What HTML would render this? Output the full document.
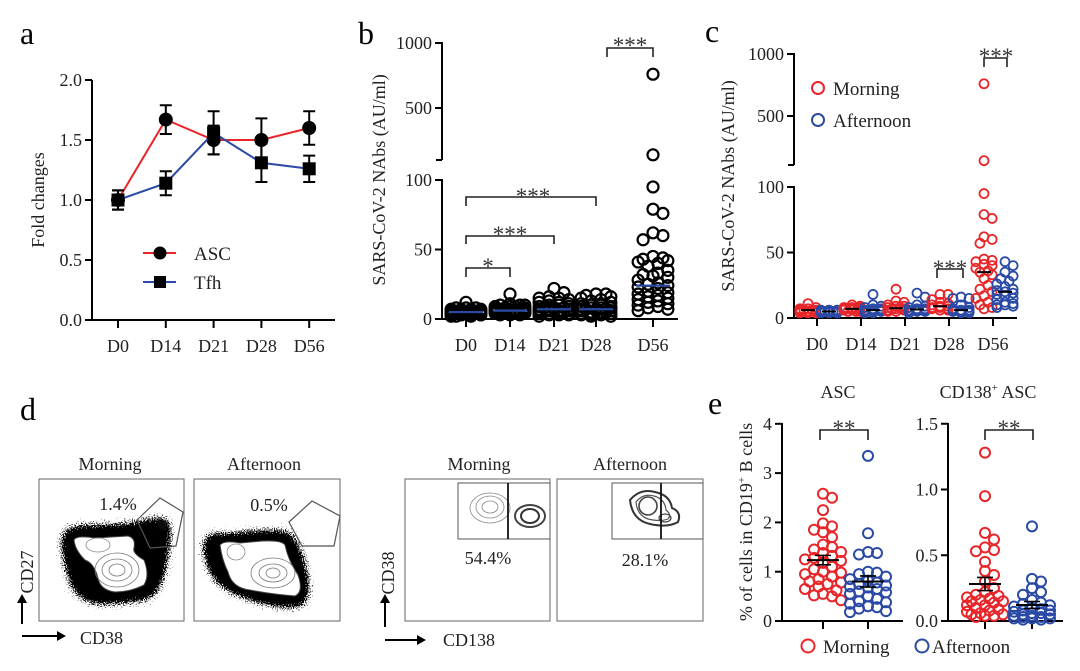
<!DOCTYPE html>
<html><head><meta charset="utf-8">
<style>
html,body{margin:0;padding:0;background:#fff;}
svg{display:block;font-family:"Liberation Serif",serif;}
</style></head>
<body>
<svg id="fig" width="1080" height="671" viewBox="0 0 1080 671" xmlns="http://www.w3.org/2000/svg">
<defs>
<filter id="blur1"><feGaussianBlur stdDeviation="1"/></filter>
<filter id="speckle" x="-30%" y="-30%" width="160%" height="160%">
  <feGaussianBlur in="SourceAlpha" stdDeviation="7" result="mask"/>
  <feTurbulence type="fractalNoise" baseFrequency="0.9" numOctaves="1" seed="3" result="noise"/>
  <feColorMatrix in="noise" type="matrix" values="0 0 0 0 0  0 0 0 0 0  0 0 0 0 0  1.2 0 0 0 0" result="na"/>
  <feComposite in="na" in2="mask" operator="arithmetic" k1="0" k2="1" k3="1.1" k4="-1" result="sum"/>
  <feColorMatrix in="sum" type="matrix" values="0 0 0 0 0  0 0 0 0 0  0 0 0 0 0  0 0 0 12 0"/>
</filter>
</defs>
<!-- Panel letters -->
<text x="20" y="44" font-size="32">a</text>
<text x="358" y="44" font-size="32">b</text>
<text x="705" y="42" font-size="32">c</text>
<text x="20" y="420" font-size="32">d</text>
<text x="708" y="414" font-size="32">e</text>

<!-- Panel a -->
<g id="pa" stroke="#000" stroke-width="2" fill="none">
  <line x1="92" y1="80" x2="92" y2="321"/>
  <line x1="91" y1="320" x2="335" y2="320"/>
</g>
<g id="paTicks" font-size="18" fill="#222"></g>
<text transform="translate(44,200) rotate(-90)" text-anchor="middle" font-size="18" fill="#222">Fold changes</text>
<g id="paLegend">
  <line x1="143" y1="253" x2="176" y2="253" stroke="#e8262a" stroke-width="2"/>
  <circle cx="160" cy="253" r="6.5" fill="#000"/>
  <text x="194" y="260" font-size="19" fill="#222">ASC</text>
  <line x1="143" y1="282" x2="176" y2="282" stroke="#2b4aa6" stroke-width="2"/>
  <rect x="154" y="276" width="12" height="12" fill="#000"/>
  <text x="194" y="289" font-size="19" fill="#222">Tfh</text>
</g>

<!-- Panel b -->
<g stroke="#000" stroke-width="2" fill="none">
  <line x1="442" y1="42" x2="442" y2="160"/>
  <line x1="436" y1="160" x2="442" y2="160"/>
  <line x1="442" y1="179" x2="442" y2="320"/>
  <line x1="441" y1="319" x2="678" y2="319"/>
</g>
<g id="pbTicks" font-size="18" fill="#222"></g>
<text transform="translate(385,180) rotate(-90)" text-anchor="middle" font-size="18" fill="#222">SARS-CoV-2 NAbs (AU/ml)</text>
<g id="pbMarks"></g>
<g stroke="#222" stroke-width="1.6" fill="none">
  <path d="M466 277 V268 H510 V277"/>
  <path d="M466 244 V236 H554 V244"/>
  <path d="M466 206 V197 H596 V206"/>
  <path d="M607 57 V48 H653 V57"/>
</g>
<g font-size="23" fill="#333" text-anchor="middle">
  <text x="488" y="274">*</text>
  <text x="510" y="242">***</text>
  <text x="533" y="204">***</text>
  <text x="630" y="53">***</text>
</g>

<!-- Panel c -->
<g stroke="#000" stroke-width="2" fill="none">
  <line x1="794" y1="53" x2="794" y2="165"/>
  <line x1="788" y1="165" x2="794" y2="165"/>
  <line x1="794" y1="186" x2="794" y2="319"/>
  <line x1="793" y1="318" x2="1017" y2="318"/>
</g>
<g id="pcTicks" font-size="18" fill="#222"></g>
<text transform="translate(734,186) rotate(-90)" text-anchor="middle" font-size="18" fill="#222">SARS-CoV-2 NAbs (AU/ml)</text>
<g id="pcMarks"></g>
<g>
  <circle cx="818" cy="88" r="6" fill="none" stroke="#e8262a" stroke-width="2"/>
  <text x="833" y="95" font-size="19" fill="#222">Morning</text>
  <circle cx="818" cy="120" r="6" fill="none" stroke="#2b4aa6" stroke-width="2"/>
  <text x="833" y="127" font-size="19" fill="#222">Afternoon</text>
</g>
<g stroke="#222" stroke-width="1.6" fill="none">
  <path d="M937 278 V269 H963 V278"/>
  <path d="M984 67 V58 H1007 V67"/>
</g>
<g font-size="23" fill="#333" text-anchor="middle">
  <text x="950" y="276">***</text>
  <text x="996" y="64">***</text>
</g>

<!-- Panel d -->
<g font-size="18" fill="#222">
  <text x="110" y="470" text-anchor="middle">Morning</text>
  <text x="264" y="470" text-anchor="middle">Afternoon</text>
  <text x="479" y="470" text-anchor="middle">Morning</text>
  <text x="630" y="470" text-anchor="middle">Afternoon</text>

  <!-- plot 1 -->
  <g>
    <rect x="39" y="479" width="145" height="142" fill="#fff" stroke="#666" stroke-width="1"/>
    <path d="M62 535 Q66 526 88 527 L128 525 Q148 521 160 518 Q170 516 170 530 L166 560 Q162 588 150 598 Q120 603 95 603 Q77 598 72 585 Q63 560 62 535Z" fill="#000" filter="url(#speckle)"/>
    <circle cx="163" cy="525" r="5" fill="#111" filter="url(#blur1)"/>
    <path d="M74 540 Q76 535 95 538 L128 536 Q136 538 134 548 Q132 553 144 560 Q150 575 144 585 Q130 592 115 592 Q100 590 98 578 Q94 563 85 560 Q75 550 74 540Z" fill="#fff" stroke="#444" stroke-width="1"/>
    <ellipse cx="117" cy="570" rx="22" ry="17" fill="none" stroke="#777" stroke-width="0.8"/>
    <ellipse cx="117" cy="570" rx="15" ry="11" fill="none" stroke="#777" stroke-width="0.8"/>
    <ellipse cx="117" cy="570" rx="8" ry="6" fill="none" stroke="#777" stroke-width="0.8"/>
    <ellipse cx="98" cy="545" rx="12" ry="7" fill="none" stroke="#888" stroke-width="0.8"/>
    <path d="M137 520 L160 498 L183 512 L176 546 L150 548 Z" fill="none" stroke="#555" stroke-width="1.2"/>
    <text x="118" y="510" text-anchor="middle">1.4%</text>
  </g>
  <!-- plot 2 -->
  <g>
    <rect x="194" y="479" width="146" height="142" fill="#fff" stroke="#666" stroke-width="1"/>
    <path d="M204 540 Q208 532 225 535 L260 532 Q283 530 292 534 Q298 547 303 560 Q310 585 306 604 Q290 609 265 603 Q237 596 218 583 Q204 565 204 540Z" fill="#000" filter="url(#speckle)"/>
    <path d="M220 545 Q224 540 240 543 L262 541 Q282 540 285 545 Q288 560 298 575 Q304 592 295 596 Q270 594 250 590 Q232 588 228 572 Q222 560 220 545Z" fill="#fff" stroke="#444" stroke-width="1"/>
    <ellipse cx="273" cy="573" rx="22" ry="15" fill="none" stroke="#777" stroke-width="0.8"/>
    <ellipse cx="273" cy="573" rx="14" ry="9" fill="none" stroke="#777" stroke-width="0.8"/>
    <ellipse cx="273" cy="573" rx="7" ry="5" fill="none" stroke="#777" stroke-width="0.8"/>
    <ellipse cx="236" cy="552" rx="9" ry="8" fill="none" stroke="#888" stroke-width="0.8"/>
    <path d="M289 522 L312 501 L340 516 L334 546 L302 546 Z" fill="none" stroke="#555" stroke-width="1.2"/>
    <text x="269" y="511" text-anchor="middle">0.5%</text>
  </g>
  <path d="M22 624 V600 M22 636 H60" stroke="#000" stroke-width="2" fill="none"/>
  <path d="M17 603 L22 594 L27 603Z M57 631 L66 636 L57 641Z" fill="#000"/>
  <text transform="translate(33,572) rotate(-90)" text-anchor="middle">CD27</text>
  <text x="80" y="644">CD38</text>

  <!-- plot 3 -->
  <g>
    <rect x="405" y="479" width="145" height="142" fill="#fff" stroke="#666" stroke-width="1"/>
    <rect x="458" y="483" width="92" height="56" fill="none" stroke="#555" stroke-width="1"/>
    <ellipse cx="490" cy="508" rx="20" ry="15" fill="none" stroke="#888" stroke-width="0.8"/>
    <ellipse cx="490" cy="507" rx="14" ry="11" fill="none" stroke="#888" stroke-width="0.8"/>
    <ellipse cx="490" cy="507" rx="8" ry="6" fill="none" stroke="#888" stroke-width="0.8"/>
    <ellipse cx="530" cy="516" rx="15" ry="11" fill="none" stroke="#444" stroke-width="2"/>
    <ellipse cx="530" cy="516" rx="9" ry="7" fill="none" stroke="#333" stroke-width="2"/>
    <line x1="508" y1="483" x2="508" y2="539" stroke="#111" stroke-width="1.8"/>
    <text x="488" y="564" text-anchor="middle">54.4%</text>
  </g>
  <!-- plot 4 -->
  <g>
    <rect x="557" y="479" width="146" height="142" fill="#fff" stroke="#666" stroke-width="1"/>
    <rect x="612" y="483" width="91" height="56" fill="none" stroke="#555" stroke-width="1"/>
    <path d="M630 500 Q640 488 655 492 Q670 495 672 508 Q682 512 678 522 Q668 528 650 524 Q632 520 630 500Z" fill="none" stroke="#333" stroke-width="2"/>
    <path d="M636 502 Q643 493 654 496 Q665 499 666 510 Q672 515 668 519 Q660 522 648 519 Q637 515 636 502Z" fill="none" stroke="#555" stroke-width="1.2"/>
    <ellipse cx="648" cy="506" rx="9" ry="9" fill="none" stroke="#444" stroke-width="1.6"/>
    <ellipse cx="665" cy="518" rx="6" ry="4" fill="none" stroke="#444" stroke-width="1.2"/>
    <line x1="661" y1="483" x2="661" y2="539" stroke="#111" stroke-width="1.8"/>
    <text x="645" y="566" text-anchor="middle">28.1%</text>
  </g>
  <path d="M385 627 V600 M385 640 H420" stroke="#000" stroke-width="2" fill="none"/>
  <path d="M380 603 L385 594 L390 603Z M417 635 L426 640 L417 645Z" fill="#000"/>
  <text transform="translate(394,573) rotate(-90)" text-anchor="middle">CD38</text>
  <text x="443" y="646">CD138</text>
</g>

<!-- Panel e -->
<g stroke="#000" stroke-width="2" fill="none">
  <line x1="782" y1="423" x2="782" y2="622"/>
  <line x1="781" y1="621" x2="903" y2="621"/>
  <line x1="948" y1="423" x2="948" y2="622"/>
  <line x1="947" y1="621" x2="1063" y2="621"/>
</g>
<g id="peTicks" font-size="18" fill="#222"></g>
<text x="838" y="398" text-anchor="middle" font-size="18" fill="#222">ASC</text>
<text x="988" y="398" text-anchor="middle" font-size="18" fill="#222">CD138<tspan font-size="11" dy="-7">+</tspan><tspan dy="7"> ASC</tspan></text>
<text transform="translate(752,522) rotate(-90)" text-anchor="middle" font-size="18" fill="#222">% of cells in CD19<tspan font-size="11" dy="-7">+</tspan><tspan dy="7"> B cells</tspan></text>
<g id="peMarks"></g>
<g stroke="#222" stroke-width="1.6" fill="none">
  <path d="M820 440 V430 H868 V440"/>
  <path d="M985 440 V430 H1033 V440"/>
</g>
<g font-size="23" fill="#333" text-anchor="middle">
  <text x="844" y="436">**</text>
  <text x="1009" y="436">**</text>
</g>
<g>
  <circle cx="808" cy="646" r="6.5" fill="none" stroke="#e8262a" stroke-width="2"/>
  <text x="823" y="653" font-size="19" fill="#222">Morning</text>
  <circle cx="922" cy="646" r="6.5" fill="none" stroke="#2b4aa6" stroke-width="2"/>
  <text x="932" y="653" font-size="19" fill="#222">Afternoon</text>
</g>
</svg>

<script>
// ---------- DATA ----------
// Panel a
const aDays = ["D0","D14","D21","D28","D56"];
const aAscMean = [1.0, 1.67, 1.50, 1.50, 1.60];
const aAscErr  = [0.08, 0.12, 0.12, 0.18, 0.14];
const aTfhMean = [1.0, 1.14, 1.56, 1.31, 1.26];
const aTfhErr  = [0.08, 0.10, 0.18, 0.16, 0.11];
const aYTicks = [0, 0.5, 1.0, 1.5, 2.0];
const aYTickLabels = ["0.0","0.5","1.0","1.5","2.0"];

// Panel b
const bDays = ["D0","D14","D21","D28","D56"];
const bD0  = [12,8,8,7,7,7,6,6,6,5,5,5,5,5,5,4,4,4,4,4,4,3,3,3,3,3,3,2,2,2,6,7,5,4,3,8,6,5];
const bD14 = [18,11,10,10,9,9,8,8,7,7,7,6,6,6,6,5,5,5,5,5,4,4,4,4,3,3,3,8,9,10,6,5,7,6];
const bD21 = [22,19,16,15,14,13,12,11,10,10,9,9,8,8,8,7,7,7,6,6,6,5,5,5,4,4,4,3,3,3,2,12,15,7,6];
const bD28 = [18,18,17,16,15,14,13,12,11,10,10,9,9,8,8,7,7,7,6,6,5,5,5,4,4,3,3,3,2,2,7,6,8];
const bD56 = [760,140,95,79,76,62,60,57,45,44,43,42,41,40,38,35,33,32,31,30,28,26,25,24,23,22,20,19,18,17,16,15,14,13,12,11,10,9,8,7,6];
const bMedians = [5, 6, 7, 7, 24];
const bYTicksLower = [0, 50, 100];
const bYTicksUpper = [500, 1000];

// Panel c
const cDays = ["D0","D14","D21","D28","D56"];
const cMorning = [
  [11,8,7,6,6,6,5,5,5,5,4,4,4,6,7,5],
  [10,9,8,8,7,7,7,6,6,6,5,5,5,8,7],
  [22,13,12,10,9,8,8,7,7,7,6,6,5,5,9],
  [18,18,14,12,11,10,9,9,8,8,7,7,6,6],
  [760,140,95,79,76,62,60,57,45,44,43,41,40,38,36,35,33,30,25,22,20,17,15,12,10,8,7]
];
const cAfternoon = [
  [6,6,5,5,5,5,4,4,4,4,5,6],
  [18,10,9,8,7,7,6,6,6,5,5,5,4,4],
  [19,16,10,9,8,7,7,6,6,6,5,5,5,4],
  [16,15,15,10,8,7,6,6,6,5,5,5,4,4],
  [43,40,35,32,30,28,26,24,22,21,20,19,18,17,15,14,12,11,10,10,9,8]
];
const cMorningMedian = [6, 7, 7.5, 9, 35];
const cAfternoonMedian = [5, 6, 6.5, 6, 20];

// Panel e
const eGroups = ["Morning","Afternoon"];
const eAscMorning = [2.58,2.50,2.25,1.98,1.92,1.85,1.80,1.70,1.55,1.50,1.45,1.40,1.38,1.32,1.28,1.25,1.22,1.18,1.10,1.05,1.00,0.98,0.95,0.90,0.85,0.80,0.78,0.75,0.70,0.65,0.62,0.55,0.52,0.50,0.42];
const eAscAfternoon = [3.35,1.78,1.40,1.38,1.35,1.00,0.98,0.95,0.90,0.85,0.82,0.78,0.75,0.72,0.70,0.68,0.65,0.60,0.58,0.55,0.50,0.45,0.40,0.38,0.35,0.30,0.28,0.25,0.20,0.18];
const eCdMorning = [1.28,0.95,0.67,0.62,0.56,0.54,0.53,0.45,0.38,0.35,0.30,0.25,0.22,0.20,0.19,0.18,0.17,0.16,0.15,0.15,0.14,0.12,0.12,0.10,0.09,0.08,0.07,0.06,0.05,0.05,0.04,0.04,0.03];
const eCdAfternoon = [0.72,0.32,0.30,0.25,0.22,0.20,0.16,0.14,0.13,0.12,0.11,0.10,0.09,0.08,0.08,0.07,0.06,0.06,0.05,0.05,0.04,0.04,0.03,0.03,0.02,0.02,0.02,0.01,0.01];
const eAscTicks = [0,1,2,3,4];
const eCdTicks = [0, 0.5, 1.0, 1.5];
const eCdTickLabels = ["0.0","0.5","1.0","1.5"];

// ---------- HELPERS ----------
const NS = "http://www.w3.org/2000/svg";
function mk(tag, parent, attrs) {
  const e = document.createElementNS(NS, tag);
  for (const k in attrs) e.setAttribute(k, attrs[k]);
  parent.appendChild(e);
  return e;
}
function swarm(ys, r, maxOff) {
  const placed = [];
  const order = ys.map((y, i) => i).sort((a, b) => ys[a] - ys[b]);
  const offs = new Array(ys.length).fill(0);
  const step = r * 0.9;
  for (const i of order) {
    const cands = [0];
    for (let k = 1; k * step <= maxOff; k++) { cands.push(k * step, -k * step); }
    let best = cands[0], bestOv = Infinity;
    for (const c of cands) {
      let ov = 0;
      for (const p of placed) {
        const d = Math.hypot(p.x - c, p.y - ys[i]);
        if (d < 1.6 * r) ov += (1.6 * r - d);
      }
      if (ov < bestOv - 0.01) { bestOv = ov; best = c; }
      if (ov === 0) break;
    }
    offs[i] = best;
    placed.push({ x: best, y: ys[i] });
  }
  return offs;
}
function mean(a) { return a.reduce((s, v) => s + v, 0) / a.length; }
function sem(a) { const m = mean(a); return Math.sqrt(a.reduce((s, v) => s + (v - m) * (v - m), 0) / (a.length - 1)) / Math.sqrt(a.length); }

// ---------- PANEL A ----------
const aX = i => 118 + i * 47.8;
const aY = v => 320 - v * 120;
const paT = document.getElementById("paTicks");
aYTicks.forEach((t, i) => {
  const ln = mk("line", paT, { x1: 85, x2: 92, y1: aY(t), y2: aY(t), stroke: "#000", "stroke-width": 2 });
  
  
  const tx = mk("text", paT, { x: 82, y: aY(t) + 6, "text-anchor": "end" });
  tx.textContent = aYTickLabels[i];
  
  
});
aDays.forEach((d, i) => {
  const ln = mk("line", paT, { x1: aX(i), x2: aX(i), y1: 320, y2: 328, stroke: "#000", "stroke-width": 2 });
  
  
  const tx = mk("text", paT, { x: aX(i), y: 352, "text-anchor": "middle" });
  tx.textContent = d;
  
  
});
const pa = document.getElementById("pa");
function aSeries(means, errs, color, square, name) {
  const pts = means.map((v, i) => aX(i) + "," + aY(v)).join(" ");
  const pl = mk("polyline", pa, { points: pts, stroke: color, "stroke-width": 2, fill: "none" });
  
  
  means.forEach((v, i) => {
    const x = aX(i);
    const eb = mk("path", pa, { d: `M${x} ${aY(v - errs[i])} V${aY(v + errs[i])} M${x - 6} ${aY(v - errs[i])} H${x + 6} M${x - 6} ${aY(v + errs[i])} H${x + 6}`, stroke: "#000", "stroke-width": 2 });
    
    
    let m;
    if (square) m = mk("rect", pa, { x: x - 6.5, y: aY(v) - 6.5, width: 13, height: 13, fill: "#000", stroke: "none" });
    else m = mk("circle", pa, { cx: x, cy: aY(v), r: 7, fill: "#000", stroke: "none" });
    
    
  });
}
aSeries(aAscMean, aAscErr, "#e8262a", false, "asc");
aSeries(aTfhMean, aTfhErr, "#2b4aa6", true, "tfh");

// ---------- PANEL B ----------
const bX = i => [466, 510, 554, 596, 653][i];
const bY = v => v <= 100 ? 319 - v * 1.39 : 108 - (v - 500) * 0.13;
const pbT = document.getElementById("pbTicks");
bYTicksLower.concat(bYTicksUpper).forEach(t => {
  const ln = mk("line", pbT, { x1: 435, x2: 442, y1: bY(t), y2: bY(t), stroke: "#000", "stroke-width": 2 });
  
  
  const tx = mk("text", pbT, { x: 432, y: bY(t) + 6, "text-anchor": "end" });
  tx.textContent = t;
  
  
});
bDays.forEach((d, i) => {
  const ln = mk("line", pbT, { x1: bX(i), x2: bX(i), y1: 319, y2: 327, stroke: "#000", "stroke-width": 2 });
  
  
  const tx = mk("text", pbT, { x: bX(i), y: 351, "text-anchor": "middle" });
  tx.textContent = d;
  
  
});
const pbM = document.getElementById("pbMarks");
[bD0, bD14, bD21, bD28, bD56].forEach((vals, gi) => {
  const ys = vals.map(bY);
  const offs = swarm(ys, 5.5, 16);
  vals.forEach((v, j) => {
    const c = mk("circle", pbM, { cx: bX(gi) + offs[j], cy: ys[j], r: 5.5, fill: "none", stroke: "#000", "stroke-width": 2.2 });
    
    
  });
  const med = mk("line", pbM, { x1: bX(gi) - 17, x2: bX(gi) + 17, y1: bY(bMedians[gi]), y2: bY(bMedians[gi]), stroke: "#2b4aa6", "stroke-width": 2.2 });
  
  
});

// ---------- PANEL C ----------
const cX = i => 817 + i * 44;
const cY = v => v <= 100 ? 318 - v * 1.31 : 116 - (v - 500) * 0.124;
const pcT = document.getElementById("pcTicks");
[0, 50, 100, 500, 1000].forEach(t => {
  const ln = mk("line", pcT, { x1: 787, x2: 794, y1: cY(t), y2: cY(t), stroke: "#000", "stroke-width": 2 });
  
  
  const tx = mk("text", pcT, { x: 784, y: cY(t) + 6, "text-anchor": "end" });
  tx.textContent = t;
  
  
});
cDays.forEach((d, i) => {
  const ln = mk("line", pcT, { x1: cX(i), x2: cX(i), y1: 318, y2: 326, stroke: "#000", "stroke-width": 2 });
  
  
  const tx = mk("text", pcT, { x: cX(i), y: 350, "text-anchor": "middle" });
  tx.textContent = d;
  
  
});
const pcM = document.getElementById("pcMarks");
function cGroup(vals, cx, color, medVal, name) {
  const ys = vals.map(cY);
  const offs = swarm(ys, 4.5, 10);
  vals.forEach((v, j) => {
    const c = mk("circle", pcM, { cx: cx + offs[j], cy: ys[j], r: 4.5, fill: "none", stroke: color, "stroke-width": 1.8 });
    
    
  });
  const med = mk("line", pcM, { x1: cx - 7, x2: cx + 7, y1: cY(medVal), y2: cY(medVal), stroke: "#000", "stroke-width": 2 });
  
  
}
cDays.forEach((d, i) => {
  cGroup(cMorning[i], cX(i) - 9, "#e8262a", cMorningMedian[i], 'c-morning-' + d.toLowerCase());
  cGroup(cAfternoon[i], cX(i) + 12, "#2b4aa6", cAfternoonMedian[i], 'c-afternoon-' + d.toLowerCase());
});

// ---------- PANEL E ----------
const eAscX = i => [823, 868][i];
const eCdX = i => [985, 1032][i];
const eAscY = v => 621 - v * 49.3;
const eCdY = v => 621 - v * 131.5;
const peT = document.getElementById("peTicks");
eAscTicks.forEach(t => {
  const ln = mk("line", peT, { x1: 775, x2: 782, y1: eAscY(t), y2: eAscY(t), stroke: "#000", "stroke-width": 2 });
  
  
  const tx = mk("text", peT, { x: 772, y: eAscY(t) + 6, "text-anchor": "end" });
  tx.textContent = t;
  
  
});
eCdTicks.forEach((t, i) => {
  const ln = mk("line", peT, { x1: 941, x2: 948, y1: eCdY(t), y2: eCdY(t), stroke: "#000", "stroke-width": 2 });
  
  
  const tx = mk("text", peT, { x: 938, y: eCdY(t) + 6, "text-anchor": "end" });
  tx.textContent = eCdTickLabels[i];
  
  
});
eGroups.forEach((g, i) => {
  const l1 = mk("line", peT, { x1: eAscX(i), x2: eAscX(i), y1: 621, y2: 629, stroke: "#000", "stroke-width": 2 });
  
  
  const l2 = mk("line", peT, { x1: eCdX(i), x2: eCdX(i), y1: 621, y2: 629, stroke: "#000", "stroke-width": 2 });
  
  
});
const peM = document.getElementById("peMarks");
function eGroup(vals, cx, yf, color, name) {
  const ys = vals.map(yf);
  const offs = swarm(ys, 5, 18);
  vals.forEach((v, j) => {
    const c = mk("circle", peM, { cx: cx + offs[j], cy: ys[j], r: 5, fill: "none", stroke: color, "stroke-width": 2 });
    
    
  });
  const m = mean(vals), s = sem(vals);
  const ml = mk("line", peM, { x1: cx - 16, x2: cx + 16, y1: yf(m), y2: yf(m), stroke: "#000", "stroke-width": 2 });
  
  
  const eb = mk("path", peM, { d: `M${cx} ${yf(m - s)} V${yf(m + s)} M${cx - 8} ${yf(m - s)} H${cx + 8} M${cx - 8} ${yf(m + s)} H${cx + 8}`, stroke: "#000", "stroke-width": 1.6, fill: "none" });
  
  
}
eGroup(eAscMorning, eAscX(0), eAscY, "#e8262a", 'e-asc-morning');
eGroup(eAscAfternoon, eAscX(1), eAscY, "#2b4aa6", 'e-asc-afternoon');
eGroup(eCdMorning, eCdX(0), eCdY, "#e8262a", 'e-cd138-morning');
eGroup(eCdAfternoon, eCdX(1), eCdY, "#2b4aa6", 'e-cd138-afternoon');
</script>
</body></html>
